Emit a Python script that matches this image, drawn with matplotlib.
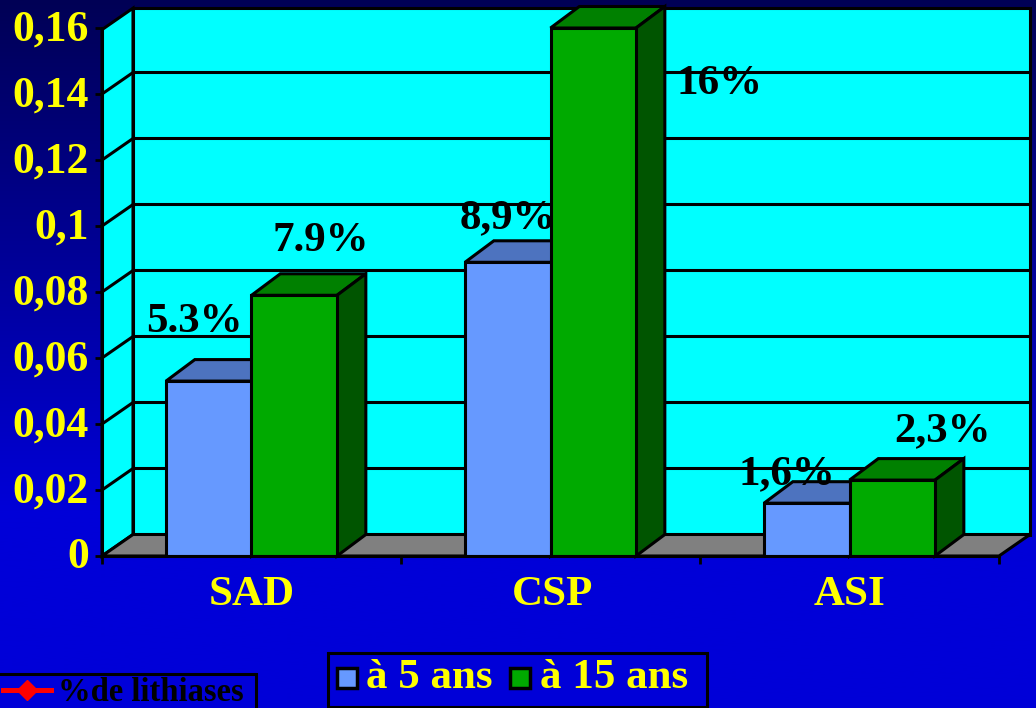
import numpy as np
import matplotlib
matplotlib.use("Agg")
import matplotlib.pyplot as plt
from matplotlib.patches import Polygon, Rectangle
from matplotlib.lines import Line2D
from matplotlib.legend_handler import HandlerPatch
from matplotlib.transforms import ScaledTranslation

categories = ["SAD", "CSP", "ASI"]
series_names = ["à 5 ans", "à 15 ans"]
values_5 = [0.053, 0.089, 0.016]
values_15 = [0.079, 0.16, 0.023]
labels_5 = ["5.3%", "8,9%", "1,6%"]
labels_15 = ["7.9%", "16%", "2,3%"]
tick_values = [0, 0.02, 0.04, 0.06, 0.08, 0.1, 0.12, 0.14, 0.16]
tick_labels = ["0", "0,02", "0,04", "0,06", "0,08", "0,1", "0,12", "0,14", "0,16"]

W, H = 1036, 708
plt.rcParams['font.family'] = ['Liberation Serif', 'DejaVu Serif']
plt.rcParams['font.weight'] = 'bold'
fig = plt.figure(figsize=(W/100, H/100), dpi=100)

# gradient background
bg = fig.add_axes([0, 0, 1, 1], zorder=0)
bg.axis('off')
top = np.array([0, 0, 0x55]) / 255
bot = np.array([0, 0, 0xd8]) / 255
t = np.clip(np.linspace(0, 1, 300) / 0.72, 0, 1)[:, None, None]
bg.imshow(top[None, None, :] * (1 - t) + bot[None, None, :] * t, aspect='auto', extent=(0, 1, 0, 1))

L, R, B, T = 102, 999, 556, 28
ax = fig.add_axes([L/W, 1 - B/H, (R-L)/W, (B-T)/H], zorder=1)
ax.set_xlim(0, 3)
ax.set_ylim(0, 0.16)
ax.patch.set_alpha(0)
for s in ['top', 'right']:
    ax.spines[s].set_visible(False)
for s in ['left', 'bottom']:
    ax.spines[s].set_linewidth(2.2)
    ax.spines[s].set_zorder(20)

dx = 31 / ((R-L)/3)
dy = 21.5 / ((B-T)/0.16)
lw = 2.2
wall_top = 0.1595

def poly(pts, fc, z=2, lw=lw):
    ax.add_patch(Polygon(pts, closed=True, fc=fc, ec='black', lw=lw, zorder=z, clip_on=False))

# walls and floor
poly([(0, 0), (dx, dy), (dx, wall_top+dy), (0, wall_top)], '#00FFFF')
poly([(dx, dy), (3+dx, dy), (3+dx, wall_top+dy), (dx, wall_top+dy)], '#00FFFF')
poly([(0, 0), (3, 0), (3+dx, dy), (dx, dy)], '#808080', z=3)
for v in tick_values[1:-1]:
    ax.plot([0, dx, 3+dx], [v, v+dy, v+dy], color='black', lw=lw, zorder=2.5, clip_on=False, solid_joinstyle='miter')

# bars
bw = 85.5 / ((R-L)/3)
x = np.arange(3) + 0.5
def bar3d(xc, h, front, topc, side, name=None):
    bars = ax.bar(xc, h, width=bw, color=front, edgecolor='black', linewidth=lw, zorder=6, label=name)
    for xi, hi in zip(xc, h):
        x0, x1 = xi - bw/2, xi + bw/2
        poly([(x0, hi), (x1, hi), (x1+dx*0.93, hi+dy), (x0+dx*0.93, hi+dy)], topc, z=5)
        poly([(x1, 0), (x1+dx*0.93, dy), (x1+dx*0.93, hi+dy), (x1, hi)], side, z=5)
    return bars

b1 = bar3d(x - bw/2, values_5, '#6699FF', '#4D73BF', '#334D80', series_names[0])
b2 = bar3d(x + bw/2, values_15, '#00AA00', '#008000', '#005500', series_names[1])

ax.set_xticks([0, 1, 2, 3])
ax.set_xticklabels([])
ax.set_yticks(tick_values)
ax.set_yticklabels(tick_labels, color='#FFFF00', fontsize=31.5, fontweight='bold')
ax.tick_params(axis='y', length=5, width=2, color='black', pad=4.5, direction='out')
ax.tick_params(axis='x', length=6, width=2, color='black')
for lab in ax.get_yticklabels():
    lab.set_transform(lab.get_transform() + ScaledTranslation(0, 0.03, fig.dpi_scale_trans))
cat_nudge = [0, 2, 0]
for xc, c, n in zip(x, categories, cat_nudge):
    ax.annotate(c, (xc, 0), xytext=(n, -39), textcoords='offset pixels', ha='center', va='center',
                color='#FFFF00', fontsize=31, fontweight='bold', annotation_clip=False, zorder=30)

# value labels
lab_fs = 31
pos_5 = [(194, 322), (508, 218), (787, 474)]
pos_15 = [(321, 241), (719, 84), (943, 431)]
def place(labels, vals, offs, pos):
    for lab, xc, v, p in zip(labels, offs, vals, pos):
        ax.annotate(lab, (xc, v), xytext=(p[0], H - p[1]), textcoords='figure pixels', ha='center', va='center',
                    color='black', fontsize=lab_fs, fontweight='bold', zorder=30, annotation_clip=False)
place(labels_5, values_5, x - bw/2, pos_5)
place(labels_15, values_15, x + bw/2, pos_15)

# legend frames
def frame(x0, y0, x1, y1):
    fig.add_artist(Rectangle((x0/W, 1 - y1/H), (x1-x0)/W, (y1-y0)/H, transform=fig.transFigure,
                             fc='#0000D8', ec='black', lw=2.2, zorder=39))
frame(328, 653, 707, 707)
frame(-3, 674, 256, 714)

# legends
def square(legend, orig_handle, xdescent, ydescent, width, height, fontsize):
    return Rectangle((-xdescent, 0), 14.5, 14.5)
h1 = [Rectangle((0, 0), 1, 1, fc='#6699FF', ec='black', lw=2.5), Rectangle((0, 0), 1, 1, fc='#00AA00', ec='black', lw=2.5)]
leg = fig.legend(h1, series_names, loc='lower left', bbox_to_anchor=(328/W, 1 - 706/H),
                 ncol=2, fontsize=31, frameon=False, labelcolor='#FFFF00',
                 handler_map={Rectangle: HandlerPatch(patch_func=square)},
                 handlelength=0.45, handleheight=0.45, handletextpad=0.24, columnspacing=0.4,
                 borderaxespad=0, borderpad=0.2)
leg.set_zorder(40)
h2 = [Line2D([0], [0], color='#FF0000', lw=3.6, marker='D', ms=10, mfc='#FF0000', mec='#FF0000')]
leg2 = fig.legend(h2, ['%de lithiases'], loc='lower left', bbox_to_anchor=(-4/W, 1 - 715/H),
                  fontsize=23.5, frameon=False, labelcolor='black', handlelength=1.5,
                  handletextpad=0.2, borderaxespad=0, borderpad=0.2)
leg2.set_zorder(40)

fig.savefig('out.png', dpi=100)
